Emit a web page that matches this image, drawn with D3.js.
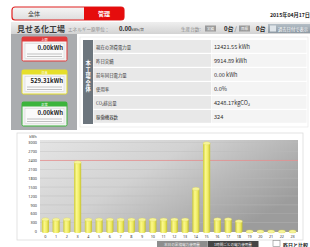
<!DOCTYPE html>
<html>
<head>
<meta charset="utf-8">
<script src="https://cdn.jsdelivr.net/npm/d3@7"></script>
<style>
  body{margin:0;background:#fff;}
  svg{display:block;font-family:"Noto Sans CJK JP","Noto Sans",sans-serif;}
</style>
</head>
<body>
<div id="svg"></div>
<script>
// hourly usage (kWh)
var hours = d3.range(0,24).map(String);
var usage = [410,405,408,2340,400,402,405,398,403,401,400,404,406,402,1440,2980,410,412,345,0,0,0,0,0];
var yTicks = [0,300,600,900,1200,1500,1800,2100,2400,2700,3000];
var limitValue = 2400;

// summary table
var tableLabels = ["現在の消費電力量","昨日実績","前年同日電力量","使用率","CO\u2082排出量","稼働機器数"];
var tableValues = ["12421.55 kWh","9914.89 kWh","0.00 kWh","0.0%","4248.17kgCO\u2082","324"];

// status cards on the left
var cardNames = ["上限","注意","正常"];
var cardValues = ["0.00kWh","529.31kWh","0.00kWh"];
var cardColors = ["#e23a3a","#e6df2a","#3cb43c"];

var svgWidth = 310, svgHeight = 247;
var svg = d3.select("#svg").append("svg")
    .attr("width",svgWidth)
    .attr("height",svgHeight);
var defs = svg.append("defs");

function linGrad(id,x2,y2,stops){
    var g = defs.append("linearGradient").attr("id",id)
        .attr("x1",0).attr("y1",0).attr("x2",x2).attr("y2",y2);
    stops.forEach(s=>g.append("stop").attr("offset",s[0]).attr("stop-color",s[1]));
}
linGrad("band",0,1,[[0,"#efefef"],[1,"#d3d3d3"]]);
linGrad("tabL",0,1,[[0,"#f6f6f6"],[1,"#dedede"]]);
linGrad("plotBg",1,0.6,[[0,"#e4e4e4"],[0.45,"#d2d2d2"],[1,"#9c9c9c"]]);
linGrad("cyl",1,0,[[0,"#cfcc3a"],[0.35,"#fbf98c"],[0.7,"#efeb62"],[1,"#c4c032"]]);
linGrad("btn",0,1,[[0,"#b4bec6"],[1,"#8e9aa4"]]);

// ---- top tab ----
svg.append("rect").attr("x",12).attr("y",7).attr("width",112).attr("height",13)
    .attr("rx",3).attr("fill","url(#tabL)").attr("stroke","#e02020").attr("stroke-width",1.2);
svg.append("rect").attr("x",84).attr("y",7).attr("width",40).attr("height",13)
    .attr("rx",3).attr("fill","#e50d0d");
svg.append("rect").attr("x",84).attr("y",7).attr("width",6).attr("height",13).attr("fill","#e50d0d");
svg.append("text").attr("x",28).attr("y",16).attr("font-size",6).attr("fill","#444").text("全体");
svg.append("text").attr("x",104).attr("y",16).attr("font-size",6).attr("font-weight","bold")
    .attr("text-anchor","middle").attr("fill","#fff").text("管理");
svg.append("text").attr("x",270).attr("y",17).attr("font-size",5.2).attr("font-weight","bold")
    .attr("fill","#222").text("2015年04月17日");

// ---- header band ----
svg.append("rect").attr("x",11).attr("y",22).attr("width",299).attr("height",12).attr("fill","url(#band)");
svg.append("text").attr("x",17).attr("y",31.5).attr("font-size",8).attr("font-weight","bold")
    .attr("fill","#3c3c3c").text("見せる化工場");
svg.append("text").attr("x",68).attr("y",30.5).attr("font-size",4.6).attr("fill","#8a8a8a").text("エネルギー原単位：");
svg.append("text").attr("x",119).attr("y",30.5).attr("font-size",6).attr("font-weight","bold")
    .attr("fill","#222").text("0.00")
    .append("tspan").attr("font-size",3.6).attr("font-weight","normal").text("kWh/台");
svg.append("text").attr("x",181).attr("y",30.5).attr("font-size",4.6).attr("fill","#8a8a8a").text("生産台数:");
[[205,"実績"],[239,"目標"]].forEach(b=>{
    svg.append("rect").attr("x",b[0]).attr("y",25.5).attr("width",11).attr("height",6).attr("fill","#9a9a9a");
    svg.append("text").attr("x",b[0]+5.5).attr("y",30).attr("font-size",3.5).attr("fill","#fff")
        .attr("text-anchor","middle").text(b[1]);
});
svg.append("text").attr("x",224).attr("y",31).attr("font-size",6).attr("font-weight","bold").attr("fill","#222").text("0台");
svg.append("text").attr("x",234.5).attr("y",31).attr("font-size",6).attr("fill","#666").text("/");
svg.append("text").attr("x",256).attr("y",31).attr("font-size",6).attr("font-weight","bold").attr("fill","#222").text("0台");
svg.append("rect").attr("x",268).attr("y",24).attr("width",42).attr("height",9).attr("fill","url(#btn)");
svg.append("rect").attr("x",270).attr("y",25.5).attr("width",6).attr("height",6).attr("fill","#dfe5ea");
svg.append("text").attr("x",278).attr("y",30.5).attr("font-size",4.3).attr("fill","#fff").text("過去日付で表示");

// ---- left panel with cards ----
svg.append("rect").attr("x",11).attr("y",34).attr("width",66).attr("height",96).attr("fill","#aaacaf");
var cardY = [37,70,102];
cardValues.forEach((v,i)=>{
    var g = svg.append("g").attr("transform",`translate(22,${cardY[i]})`);
    g.append("rect").attr("width",45).attr("height",24).attr("rx",1.5)
        .attr("fill","#f2f2f2").attr("stroke",cardColors[i]).attr("stroke-width",1);
    g.append("rect").attr("width",45).attr("height",4.5).attr("fill",cardColors[i]);
    g.append("text").attr("x",22.5).attr("y",3.6).attr("font-size",3.2).attr("fill","#fff")
        .attr("text-anchor","middle").text(cardNames[i]);
    g.append("rect").attr("x",3).attr("y",6.5).attr("width",39).attr("height",15).attr("fill","#fafafa")
        .attr("stroke","#cfcfcf").attr("stroke-width",0.5);
    g.append("text").attr("x",41).attr("y",13).attr("font-size",6).attr("font-weight","bold")
        .attr("text-anchor","end").attr("fill","#222").text(v);
    [17,19.5].forEach(yy=>g.append("line").attr("x1",5).attr("x2",40).attr("y1",yy).attr("y2",yy)
        .attr("stroke","#9a9a9a").attr("stroke-width",0.6));
});

// ---- summary table ----
var rowY = d3.scaleBand().domain(d3.range(tableLabels.length)).range([40,124]);
svg.append("rect").attr("x",80).attr("y",37).attr("width",228).attr("height",90)
    .attr("fill","#fff").attr("stroke","#e4e4e4").attr("stroke-width",0.6);
svg.append("rect").attr("x",83).attr("y",40).attr("width",10).attr("height",84).attr("fill","#6c757d");
"本工場全体".split("").forEach((c,i)=>{
    svg.append("text").attr("x",88).attr("y",65+i*6.6).attr("font-size",5.2).attr("font-weight","bold")
        .attr("text-anchor","middle").attr("fill","#fff").text(c);
});
var rows = svg.selectAll(".row").data(tableLabels).enter().append("g")
    .attr("class","row")
    .attr("transform",(d,i)=>`translate(0,${rowY(i)})`);
rows.append("rect").attr("x",93.5).attr("width",117.5).attr("height",rowY.bandwidth()-1.2).attr("fill","#e8e8e8");
rows.append("rect").attr("x",211.5).attr("width",95).attr("height",rowY.bandwidth()-1.2).attr("fill","#f4f4f4");
rows.append("text").attr("x",96).attr("y",rowY.bandwidth()/2+1.5).attr("font-size",4.4)
    .attr("fill","#333").text(d=>d);
rows.append("text").attr("x",214).attr("y",rowY.bandwidth()/2+1.8).attr("font-size",5.6)
    .attr("fill","#333").text((d,i)=>tableValues[i]);

// ---- chart ----
svg.append("rect").attr("x",17).attr("y",133).attr("width",286).attr("height",107)
    .attr("fill","#fff").attr("stroke","#dcdcdc").attr("stroke-width",0.8);
var plot = {left:40,right:298,top:140,bottom:232};
var xScale = d3.scaleBand().domain(hours).range([plot.left,plot.right]).paddingInner(0.34).paddingOuter(0.17);
var yScale = d3.scaleLinear().domain([0,3000]).range([231.5,142.7]);

svg.append("rect").attr("x",plot.left).attr("y",plot.top)
    .attr("width",plot.right-plot.left).attr("height",plot.bottom-plot.top).attr("fill","url(#plotBg)");
// gridlines
svg.append("g").selectAll("line").data(yTicks.slice(1)).enter().append("line")
    .attr("x1",plot.left).attr("x2",plot.right)
    .attr("y1",d=>yScale(d)).attr("y2",d=>yScale(d))
    .attr("stroke","#bdbdbd").attr("stroke-width",0.5).attr("opacity",0.8);
// limit line
svg.append("line").attr("x1",plot.left).attr("x2",plot.right)
    .attr("y1",yScale(limitValue)).attr("y2",yScale(limitValue))
    .attr("stroke","#ec8a8a").attr("stroke-width",0.7);

// axes
var leftAxis = d3.axisLeft(yScale).tickValues(yTicks).tickFormat(d3.format("d")).tickSize(0).tickPadding(3);
var yAxis = svg.append("g").attr("transform",`translate(${plot.left},0)`).call(leftAxis);
yAxis.select(".domain").remove();
yAxis.selectAll("text").attr("font-size",3.8).attr("fill","#333").attr("font-family","'Noto Sans',sans-serif");
var bottomAxis = d3.axisBottom(xScale).tickSize(0).tickPadding(3);
var xAxis = svg.append("g").attr("transform",`translate(0,${plot.bottom})`).call(bottomAxis);
xAxis.select(".domain").remove();
xAxis.selectAll("text").attr("font-size",3.8).attr("fill","#333").attr("font-family","'Noto Sans',sans-serif");
svg.append("text").attr("x",33).attr("y",138).attr("font-size",3.6).attr("text-anchor","middle")
    .attr("fill","#333").text("kWh");

// cylinder bars
var bw = xScale.bandwidth(), ry = 1.6;
var bars = svg.selectAll(".bar").data(usage).enter().append("g").attr("class","bar");
bars.append("rect")
    .attr("x",(d,i)=>xScale(hours[i]))
    .attr("y",d=>yScale(d))
    .attr("width",bw)
    .attr("height",d=>yScale(0)-yScale(d))
    .attr("fill","url(#cyl)");
bars.append("ellipse")
    .attr("cx",(d,i)=>xScale(hours[i])+bw/2)
    .attr("cy",yScale(0))
    .attr("rx",bw/2).attr("ry",ry)
    .attr("fill","url(#cyl)");
bars.append("ellipse")
    .attr("cx",(d,i)=>xScale(hours[i])+bw/2)
    .attr("cy",d=>yScale(d))
    .attr("rx",bw/2).attr("ry",ry)
    .attr("fill","#f6f49a").attr("stroke","#d8d446").attr("stroke-width",0.3);

// bottom buttons
svg.append("rect").attr("x",157).attr("y",241).attr("width",50).attr("height",8).attr("fill","#8d8d8d");
svg.append("text").attr("x",182).attr("y",246).attr("font-size",3.6).attr("text-anchor","middle")
    .attr("fill","#eee").text("本日の累積電力使用量");
svg.append("rect").attr("x",207.5).attr("y",241).attr("width",51).attr("height",8).attr("fill","#454545");
svg.append("text").attr("x",233).attr("y",246).attr("font-size",3.6).attr("text-anchor","middle")
    .attr("fill","#eee").text("1時間ごとの電力使用量");
svg.append("rect").attr("x",273).attr("y",240.5).attr("width",7).attr("height",6)
    .attr("fill","#fff").attr("stroke","#888").attr("stroke-width",0.6);
svg.append("text").attr("x",283).attr("y",246.5).attr("font-size",5).attr("font-weight","bold")
    .attr("fill","#222").text("昨日と比較");
</script>
</body>
</html>
